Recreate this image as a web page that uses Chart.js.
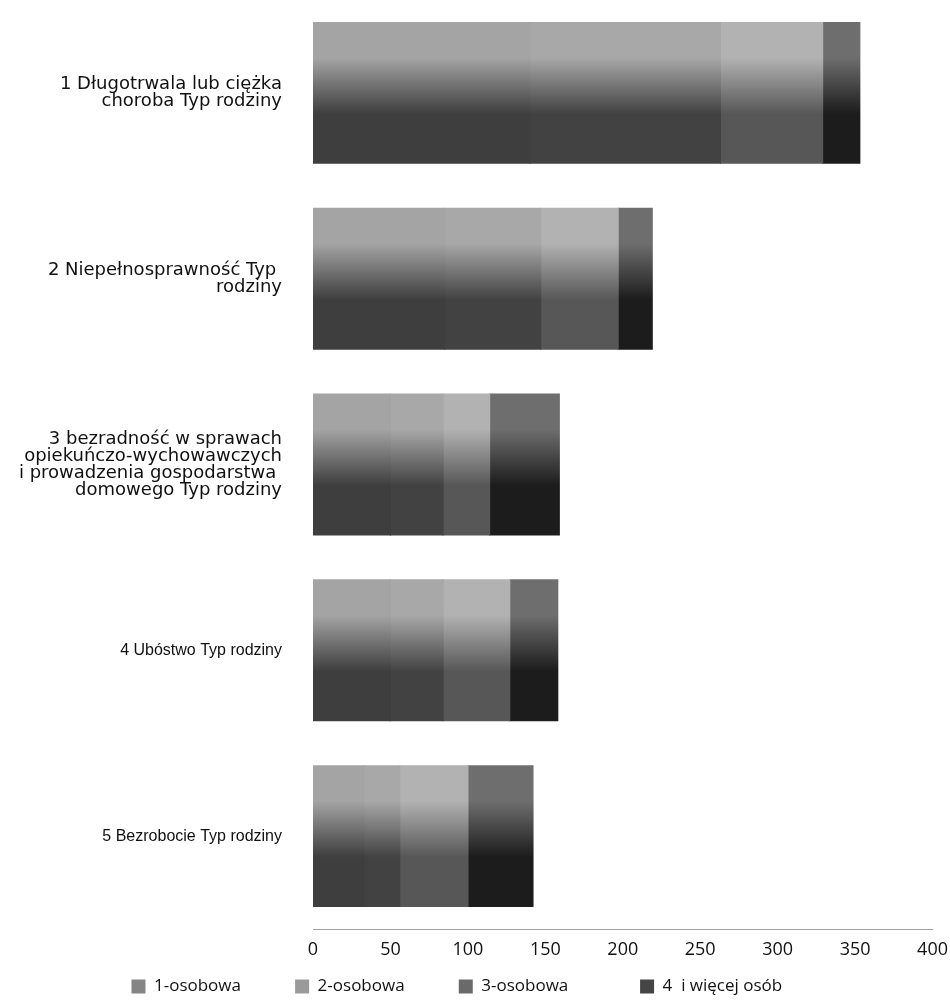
<!DOCTYPE html>
<html lang="pl">
<head>
    <meta charset="UTF-8">
    <title>Typ rodziny</title>
    <script src="https://cdn.jsdelivr.net/npm/chart.js@4.4.1/dist/chart.umd.min.js"></script>
    <style>
        html, body { margin: 0; padding: 0; background: #fff; }
        #wrap { width: 950px; height: 1005px; position: relative; }
    </style>
</head>
<body>
<div id="wrap">
    <canvas id="myChart"></canvas>
</div>
<script>
// kategorie (etykiety osi Y, wielowierszowe)
var kategorie = [
    ['1 Długotrwala lub ciężka', 'choroba Typ rodziny'],
    ['2 Niepełnosprawność Typ ', 'rodziny'],
    ['3 bezradność w sprawach', 'opiekuńczo-wychowawczych', 'i prowadzenia gospodarstwa ', 'domowego Typ rodziny'],
    '4 Ubóstwo Typ rodziny',
    '5 Bezrobocie Typ rodziny'
];

// serie
var serie = ['1-osobowa', '2-osobowa', '3-osobowa', '4  i więcej osób'];
var osoba1 = [140, 85, 50, 50, 33];
var osoba2 = [123, 62, 34, 34, 23];
var osoba3 = [66, 50, 30, 43, 44];
var osoba4 = [24, 22, 45, 31, 42];

var osTicks = [0, 50, 100, 150, 200, 250, 300, 350, 400];

// odcienie szarości: [góra słupka, dół słupka]
var odcienie = [
    ['#a4a4a4', '#3e3e3e'],
    ['#a8a8a8', '#424242'],
    ['#b2b2b2', '#575757'],
    ['#6e6e6e', '#1c1c1c']
];
var kolorLegendy = ['#858585', '#9a9a9a', '#6a6a6a', '#454545'];
var odstepLegendy = [10, 10, 14, 8];

function cieniowanie(i) {
    return function(ctx) {
        var top = odcienie[i][0], bottom = odcienie[i][1];
        var y = ctx.chart.scales.y;
        if (ctx.dataIndex === undefined || !y || y.height === undefined) {
            return kolorLegendy[i];
        }
        var c = y.getPixelForValue(ctx.dataIndex);
        var half = Math.abs(y.getPixelForValue(1) - y.getPixelForValue(0)) * 0.757 / 2;
        var g = ctx.chart.ctx.createLinearGradient(0, c - half, 0, c + half);
        g.addColorStop(0, top);
        g.addColorStop(0.25, top);
        g.addColorStop(0.65, bottom);
        g.addColorStop(1, bottom);
        return g;
    };
}

var dane = [osoba1, osoba2, osoba3, osoba4];
var datasets = serie.map(function(nazwa, i) {
    return {
        label: nazwa,
        data: dane[i],
        backgroundColor: cieniowanie(i),
        borderWidth: 0,
        inflateAmount: 0.6,
        barPercentage: 0.757,
        categoryPercentage: 1.0
    };
});

var ctx = document.getElementById('myChart').getContext('2d');
var chart = new Chart(ctx, {
    type: 'bar',
    data: { labels: kategorie, datasets: datasets },
    options: {
        indexAxis: 'y',
        responsive: true,
        maintainAspectRatio: false,
        animation: false,
        layout: { padding: { top: -7, right: 1, left: 0, bottom: 0 } },
        scales: {
            x: {
                stacked: true,
                min: osTicks[0],
                max: osTicks[osTicks.length - 1],
                afterBuildTicks: function(scale) {
                    scale.ticks = osTicks.map(function(v) { return { value: v }; });
                },
                afterFit: function(scale) { scale.height = 39; },
                grid: { display: false },
                border: { display: true, color: '#a0a0a0', width: 1, dash: [1, 2] },
                ticks: {
                    color: '#111',
                    padding: 2,
                    font: { family: 'Open Sans', size: 18 }
                }
            },
            y: {
                stacked: true,
                grid: { display: false, drawTicks: false },
                border: { display: false },
                afterFit: function(scale) {
                    scale.width = 313;
                    scale.paddingTop = 0;
                    scale.paddingBottom = 0;
                },
                ticks: {
                    color: '#111',
                    padding: 31,
                    font: function(c) {
                        if (c.index < 3) {
                            return { family: 'DejaVu Sans', size: 18, lineHeight: 0.95 };
                        }
                        return { family: 'Liberation Sans', size: 16, lineHeight: 1.15 };
                    }
                }
            }
        },
        plugins: {
            legend: {
                position: 'bottom',
                labels: {
                    boxWidth: 14,
                    boxHeight: 14,
                    padding: 10,
                    color: '#111',
                    font: { family: 'Open Sans', size: 17 },
                    generateLabels: function(ch) {
                        var items = Chart.defaults.plugins.legend.labels.generateLabels(ch);
                        items.forEach(function(it, i) {
                            it.fillStyle = kolorLegendy[i];
                            it.lineWidth = 0;
                            it.strokeStyle = kolorLegendy[i];
                            it.text = it.text + '\u00a0'.repeat(odstepLegendy[i]);
                        });
                        return items;
                    }
                }
            },
            tooltip: { enabled: false }
        }
    }
});
</script>
</body>
</html>
